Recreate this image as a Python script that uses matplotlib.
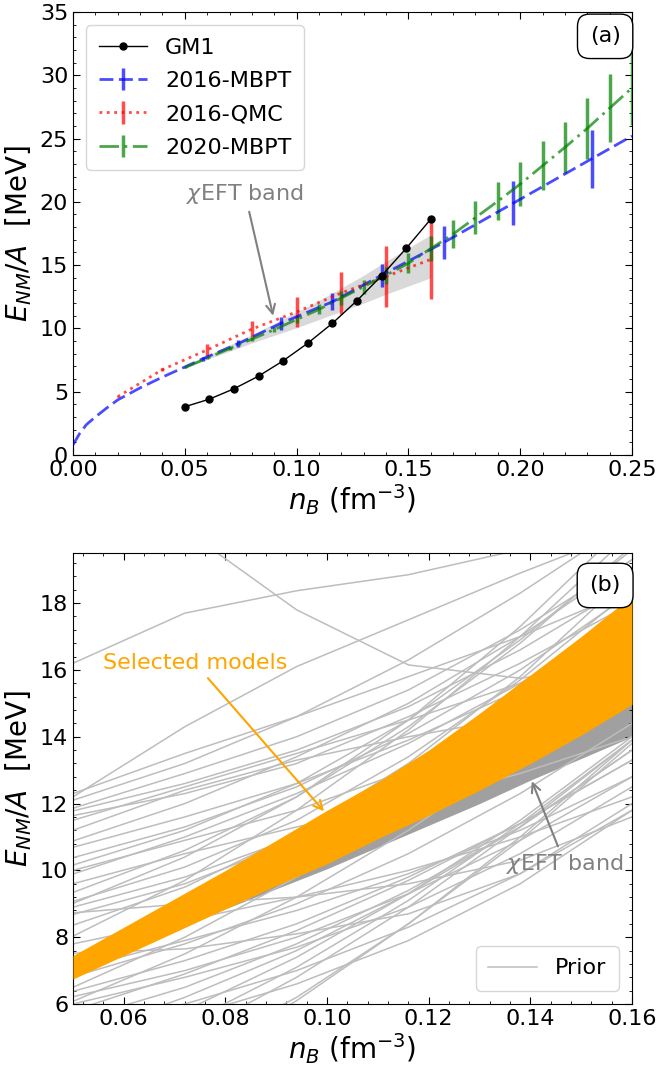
import numpy as np
import matplotlib
matplotlib.use("Agg")
import matplotlib.pyplot as plt
from matplotlib.ticker import AutoMinorLocator, MultipleLocator

# ---- panel (a) data ----
gm1_nb = [0.05, 0.061, 0.072, 0.083, 0.094, 0.105, 0.116, 0.127, 0.138, 0.149, 0.16]
gm1_e = [3.81, 4.41, 5.23, 6.23, 7.44, 8.83, 10.40, 12.19, 14.16, 16.32, 18.63]

mbpt16_nb = [0.0, 0.003, 0.006, 0.010, 0.015, 0.020, 0.030, 0.040, 0.050, 0.058,
             0.074, 0.093, 0.116, 0.138, 0.166, 0.197, 0.232, 0.250]
mbpt16_e = [0.8, 1.7, 2.4, 3.0, 3.7, 4.35, 5.3, 6.15, 6.95, 7.6,
            8.8, 10.4, 12.1, 14.2, 16.8, 19.9, 23.4, 25.2]
mbpt16_err = [np.nan] * 9 + [0.16, 0.26, 0.5, 0.66, 0.9, 1.29, 1.75, 2.29, np.nan]

qmc16_nb = [0.02, 0.04, 0.06, 0.08, 0.10, 0.12, 0.14, 0.16]
qmc16_e = [4.6, 6.75, 8.3, 9.95, 11.3, 12.8, 14.1, 15.45]
qmc16_err = [0.05, 0.15, 0.46, 0.62, 1.2, 1.64, 2.43, 3.1]

mbpt20_nb = [0.05, 0.06, 0.07, 0.08, 0.09, 0.10, 0.11, 0.12, 0.13, 0.14, 0.15,
             0.16, 0.17, 0.18, 0.19, 0.20, 0.21, 0.22, 0.23, 0.24, 0.25]
mbpt20_e = [6.9, 7.65, 8.4, 9.15, 9.9, 10.7, 11.5, 12.4, 13.3, 14.2, 15.15,
            16.3, 17.45, 18.75, 20.05, 21.4, 22.85, 24.3, 25.8, 27.4, 29.0]
mbpt20_err = [0.05, 0.1, 0.12, 0.15, 0.2, 0.3, 0.39, 0.55, 0.55, 0.66, 0.8,
              1.0, 1.1, 1.3, 1.5, 1.73, 1.95, 2.04, 2.43, 2.7, 2.9]

# chiEFT band (both panels)
band_nb = [0.05, 0.06, 0.07, 0.08, 0.09, 0.10, 0.11, 0.12, 0.13, 0.14, 0.15, 0.16]
band_lo = [6.85, 7.55, 8.2, 8.85, 9.45, 10.05, 10.7, 11.35, 12.0, 12.7, 13.35, 14.0]
band_hi = [7.05, 7.85, 8.7, 9.5, 10.4, 11.3, 12.2, 13.2, 14.2, 15.3, 16.35, 17.4]

# ---- panel (b) data ----
sel_lo = [6.75, 7.45, 8.15, 8.85, 9.55, 10.2, 10.95, 11.65, 12.4, 13.2, 14.05, 14.97]
sel_hi = [7.45, 8.3, 9.15, 10.0, 10.9, 11.8, 12.65, 13.6, 14.7, 15.85, 17.0, 18.22]

prior_nb = [0.05, 0.072, 0.094, 0.116, 0.138, 0.16]
prior_e = [
    [16.2, 17.7, 18.37, 18.85, 19.6, 20.3],
    [22.5, 20.2, 17.8, 16.15, 15.75, 16.2],
    [12.2, 14.3, 16.1, 17.5, 18.9, 20.2],
    [12.1, 13.2, 14.6, 16.3, 18.3, 20.5],
    [11.86, 12.9, 14.0, 15.4, 17.2, 19.3],
    [11.78, 12.6, 13.6, 14.9, 16.6, 18.6],
    [11.64, 12.3, 13.2, 14.6, 16.2, 18.0],
    [11.5, 12.5, 13.5, 14.5, 15.6, 16.8],
    [10.88, 12.0, 13.4, 15.0, 17.0, 19.3],
    [10.69, 11.6, 12.6, 13.9, 15.4, 17.2],
    [10.38, 11.3, 12.5, 14.1, 16.0, 18.3],
    [10.16, 11.2, 12.6, 14.5, 16.9, 19.6],
    [9.89, 11.0, 12.3, 13.8, 15.6, 17.6],
    [9.34, 10.6, 12.2, 14.3, 16.8, 19.7],
    [9.07, 10.1, 11.5, 13.4, 15.7, 18.4],
    [9.01, 10.4, 12.2, 14.5, 17.3, 20.5],
    [8.68, 9.6, 10.9, 12.6, 14.7, 17.2],
    [8.36, 9.5, 11.1, 13.2, 15.8, 18.9],
    [8.03, 9.7, 11.8, 14.2, 17.0, 20.1],
    [7.8, 8.5, 9.2, 10.0, 11.0, 12.2],
    [7.04, 7.9, 8.8, 9.9, 11.2, 12.8],
    [6.82, 7.8, 9.0, 10.5, 12.3, 14.4],
    [6.38, 7.3, 8.4, 9.8, 11.4, 13.3],
    [6.22, 7.0, 8.0, 9.3, 10.9, 12.8],
    [6.08, 7.5, 9.2, 11.2, 13.5, 16.0],
    [8.73, 9.0, 9.2, 9.6, 10.3, 11.6],
    [7.52, 7.65, 8.1, 8.7, 9.9, 11.8],
    [5.5, 6.5, 7.8, 9.4, 11.3, 13.6],
    [5.0, 6.2, 7.6, 9.3, 11.3, 13.6],
    [4.5, 5.8, 7.4, 9.3, 11.5, 14.0],
    [4.0, 5.4, 7.1, 9.1, 11.4, 13.9],
    [3.5, 5.0, 6.8, 8.9, 11.3, 13.9],
    [4.8, 5.6, 6.6, 7.9, 9.6, 11.8],
    [3.0, 4.4, 6.2, 8.4, 10.9, 13.8],
    [2.5, 4.1, 6.1, 8.4, 11.0, 13.9],
    [5.8, 6.9, 8.2, 9.7, 11.4, 13.3],
    [6.5, 8.0, 9.8, 11.9, 14.3, 17.0],
    [7.3, 8.8, 10.6, 12.7, 15.1, 17.8],
    [10.0, 10.9, 11.8, 13.0, 14.4, 16.0],
    [11.2, 12.4, 13.3, 14.0, 14.6, 15.2],
    [9.6, 10.5, 11.3, 12.0, 12.9, 14.0],
    [8.9, 9.8, 11.0, 12.5, 14.3, 16.5],
    [12.3, 13.5, 14.6, 15.8, 17.0, 18.4],
    [6.0, 6.8, 7.7, 8.9, 10.5, 12.5],
    [5.2, 6.0, 7.0, 8.3, 9.9, 12.0],
]

FS = 16
LABFS = 20
ylab = r"$E_{NM}/A$  [MeV]"
xlab = r"$n_B$ (fm$^{-3}$)"


def style_axes(ax):
    ax.xaxis.set_minor_locator(AutoMinorLocator(5))
    ax.yaxis.set_minor_locator(AutoMinorLocator(5))
    ax.tick_params(which="both", direction="in", top=True, right=True, labelsize=FS)
    ax.tick_params(which="major", length=5)
    ax.tick_params(which="minor", length=2.5)
    ax.set_xlabel(xlab, fontsize=LABFS, labelpad=2)
    ax.set_ylabel(ylab, fontsize=LABFS, labelpad=4)


def panel_tag(ax, text, x, y):
    ax.text(x, y, text, transform=ax.transAxes, fontsize=FS, ha="center", va="center",
            bbox=dict(boxstyle="round,pad=0.55", fc="white", ec="black"), zorder=10)


fig = plt.figure(figsize=(6.57, 10.68), dpi=100)
ax1 = fig.add_axes([0.1111, 0.574, 0.8508, 0.4148])
ax2 = fig.add_axes([0.1111, 0.0599, 0.8508, 0.4223])

# ---- (a) ----
ax1.fill_between(band_nb, band_lo, band_hi, color="lightgrey", alpha=0.85, lw=0, zorder=1)
h_gm1, = ax1.plot(gm1_nb, gm1_e, "-o", color="black", lw=1, ms=5, zorder=5, label="GM1")
h_b = ax1.errorbar(mbpt16_nb, mbpt16_e, yerr=np.array(mbpt16_err), color="blue", alpha=0.7,
                   lw=2, elinewidth=2.5, dashes=(5, 2), zorder=3, label="2016-MBPT")
h_r = ax1.errorbar(qmc16_nb, qmc16_e, yerr=qmc16_err, color="red", alpha=0.7,
                   lw=2, elinewidth=2.5, ls=":", zorder=3, label="2016-QMC")
h_g = ax1.errorbar(mbpt20_nb, mbpt20_e, yerr=mbpt20_err, color="green", alpha=0.7,
                   lw=2, elinewidth=2.5, dashes=(7, 2, 1, 2), zorder=3, label="2020-MBPT")
ax1.annotate(r"$\chi$EFT band", xy=(0.0895, 11.0), xytext=(0.077, 20.6),
             ha="center", va="center", color="grey", fontsize=FS,
             arrowprops=dict(arrowstyle="->", color="grey", lw=1.5, shrinkA=2, shrinkB=0))
ax1.set_xlim(0, 0.25)
ax1.set_ylim(0, 35)
ax1.xaxis.set_major_locator(MultipleLocator(0.05))
ax1.yaxis.set_major_locator(MultipleLocator(5))
style_axes(ax1)
ax1.legend(handles=[h_gm1, h_b, h_r, h_g], loc="upper left", fontsize=FS,
           borderaxespad=0.6, handlelength=2.2, labelspacing=0.6, borderpad=0.55)
panel_tag(ax1, "(a)", 0.952, 0.945)

# ---- (b) ----
ax2.fill_between(band_nb, band_lo, band_hi, color="#a0a0a0", lw=0, zorder=1)
for i, ys in enumerate(prior_e):
    ax2.plot(prior_nb, ys, color="#bdbdbd", lw=1.1, zorder=2,
             label="Prior" if i == 0 else None)
ax2.fill_between(band_nb, sel_lo, sel_hi, color="orange", lw=0, zorder=3)
ax2.annotate("Selected models", xy=(0.0994, 11.77), xytext=(0.074, 16.2),
             ha="center", va="center", color="orange", fontsize=FS,
             arrowprops=dict(arrowstyle="->", color="orange", lw=1.5, shrinkA=2, shrinkB=0),
             zorder=6)
ax2.annotate(r"$\chi$EFT band", xy=(0.1403, 12.67), xytext=(0.1468, 10.2),
             ha="center", va="center", color="grey", fontsize=FS,
             arrowprops=dict(arrowstyle="->", color="grey", lw=1.5, shrinkA=2, shrinkB=0),
             zorder=6)
ax2.set_xlim(0.05, 0.16)
ax2.set_ylim(6, 19.5)
ax2.xaxis.set_major_locator(MultipleLocator(0.02))
ax2.yaxis.set_major_locator(MultipleLocator(2))
style_axes(ax2)
ax2.legend(loc="lower right", fontsize=FS, borderaxespad=0.6, handlelength=2.2,
           borderpad=0.55)
panel_tag(ax2, "(b)", 0.952, 0.928)

fig.savefig("out.png", dpi=100)
